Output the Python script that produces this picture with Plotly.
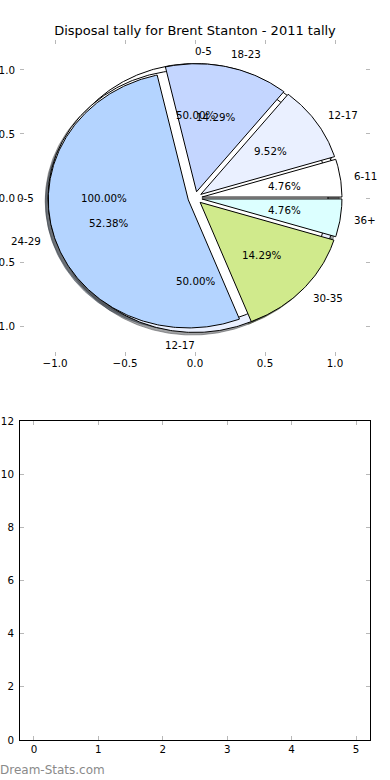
import numpy as np
import plotly.graph_objects as go

TITLE = "Disposal tally for Brent Stanton - 2011 tally"
WATERMARK = "Dream-Stats.com"

# Three pies drawn on top of one another (in draw order)
pie_b_labels = ["0-5", "12-17"]
pie_b_values = [1, 1]
pie_a_labels = ["0-5"]
pie_a_values = [1]
pie_c_labels = ["6-11", "12-17", "18-23", "24-29", "30-35", "36+"]
pie_c_values = [1, 2, 3, 11, 3, 1]

label_colors = {
    "0-5": "#ffffff",
    "6-11": "#ffffff",
    "12-17": "#eaf0ff",
    "18-23": "#c4d6ff",
    "24-29": "#b4d4ff",
    "30-35": "#d0ea8c",
    "36+": "#dcffff",
}

pie_tick_vals = [-1.0, -0.5, 0.0, 0.5, 1.0]
pie_tick_text = ["\u22121.0", "\u22120.5", "0.0", "0.5", "1.0"]
bar_x_ticks = [0, 1, 2, 3, 4, 5]
bar_y_ticks = [0, 2, 4, 6, 8, 10, 12]

EXPLODE = 0.05
SHADOW = (-0.02, -0.02)
FONT = "DejaVu Sans"
FS = 10.3
W, H = 390, 780

pies = [(pie_b_labels, pie_b_values), (pie_a_labels, pie_a_values), (pie_c_labels, pie_c_values)]


def hex_rgb(h):
    h = h.lstrip("#")
    return tuple(int(h[i:i + 2], 16) for i in (0, 2, 4))


def wedge_path(t1, t2, cx, cy, full):
    n = max(int(abs(t2 - t1) * 1.5), 3) + 1
    th = np.radians(np.linspace(t1, t2, n))
    xs = cx + np.cos(th)
    ys = cy + np.sin(th)
    if not full:
        xs = np.concatenate([[cx], xs, [cx]])
        ys = np.concatenate([[cy], ys, [cy]])
    return xs, ys


wedges = []
texts = []
for labels, values in pies:
    vals = np.asarray(values, dtype=float)
    fr = vals / vals.sum()
    t = 0.0
    for lab, f in zip(labels, fr):
        t1, t2 = t, t + 360.0 * f
        tm = np.radians((t1 + t2) / 2)
        cx, cy = EXPLODE * np.cos(tm), EXPLODE * np.sin(tm)
        wedges.append((lab, t1, t2, cx, cy, f >= 0.999999))
        lx, ly = cx + 1.1 * np.cos(tm), cy + 1.1 * np.sin(tm)
        texts.append((lab, lx, ly, "left" if np.cos(tm) > 0 else "right"))
        px, py = cx + 0.6 * np.cos(tm), cy + 0.6 * np.sin(tm)
        texts.append(("%.2f%%" % (100 * f), px, py, "center"))
        t = t2

fig = go.Figure()

# shadows (below all wedges)
for lab, t1, t2, cx, cy, full in wedges:
    xs, ys = wedge_path(t1, t2, cx + SHADOW[0], cy + SHADOW[1], full)
    r, g, b = hex_rgb(label_colors[lab])
    col = "rgba(%d,%d,%d,0.5)" % (0.3 * r, 0.3 * g, 0.3 * b)
    fig.add_trace(go.Scatter(x=xs, y=ys, mode="lines", fill="toself", fillcolor=col,
                             line=dict(color=col, width=1), hoverinfo="skip",
                             xaxis="x", yaxis="y"))

for lab, t1, t2, cx, cy, full in wedges:
    xs, ys = wedge_path(t1, t2, cx, cy, full)
    fig.add_trace(go.Scatter(x=xs, y=ys, mode="lines", fill="toself",
                             fillcolor=label_colors[lab],
                             line=dict(color="black", width=1), hoverinfo="skip",
                             xaxis="x", yaxis="y"))

# empty lower axes
fig.add_trace(go.Scatter(x=[], y=[], mode="markers", xaxis="x2", yaxis="y2", hoverinfo="skip"))

annotations = []
for txt, x, y, ha in texts:
    annotations.append(dict(x=x, y=y, xref="x", yref="y", text=txt, showarrow=False,
                            xanchor=ha, yanchor="middle", borderpad=0, borderwidth=0,
                            font=dict(family=FONT, size=FS, color="black")))
annotations.append(dict(x=0, y=1 - 770 / H, xref="paper", yref="paper", text=WATERMARK,
                        showarrow=False, xanchor="left", yanchor="middle", borderpad=0,
                        borderwidth=0, font=dict(family=FONT, size=12, color="#8a8a8a")))

tick_common = dict(ticks="inside", ticklen=4, tickwidth=1, tickcolor="#b8b8b8",
                   showgrid=False, zeroline=False, automargin=False,
                   tickfont=dict(family=FONT, size=FS, color="black"))
xdom = [20 / W, 370 / W]

fig.update_layout(
    template="none",
    width=W, height=H,
    margin=dict(l=0, r=0, t=0, b=0, pad=0),
    paper_bgcolor="white", plot_bgcolor="white",
    showlegend=False,
    font=dict(family=FONT, color="black"),
    title=dict(text=TITLE, x=0.5, xanchor="center", y=1 - 30 / H, yanchor="middle",
               font=dict(family=FONT, size=13, color="black")),
    xaxis=dict(domain=xdom, range=[-1.25, 1.25], anchor="y", tickvals=pie_tick_vals,
               ticktext=pie_tick_text, showline=False, mirror="ticks", **tick_common),
    yaxis=dict(domain=[1 - 356 / H, 1 - 40 / H], range=[-1.234, 1.234], anchor="x",
               tickvals=pie_tick_vals, ticktext=pie_tick_text, showline=False,
               mirror="ticks", ticklabelstandoff=4, **tick_common),
    xaxis2=dict(domain=xdom, range=[-0.217, 5.217], anchor="y2", tickvals=bar_x_ticks,
                showline=True, linecolor="black", linewidth=1, mirror="ticks", **tick_common),
    yaxis2=dict(domain=[1 - 740 / H, 1 - 421 / H], range=[0, 12], anchor="x2",
                tickvals=bar_y_ticks, showline=True, linecolor="black", linewidth=1,
                mirror="ticks", ticklabelstandoff=3, **tick_common),
    annotations=annotations,
)

fig.write_html("out.html", config={"displayModeBar": False},
               post_script="document.body.style.margin='0';document.body.style.padding='0';")
